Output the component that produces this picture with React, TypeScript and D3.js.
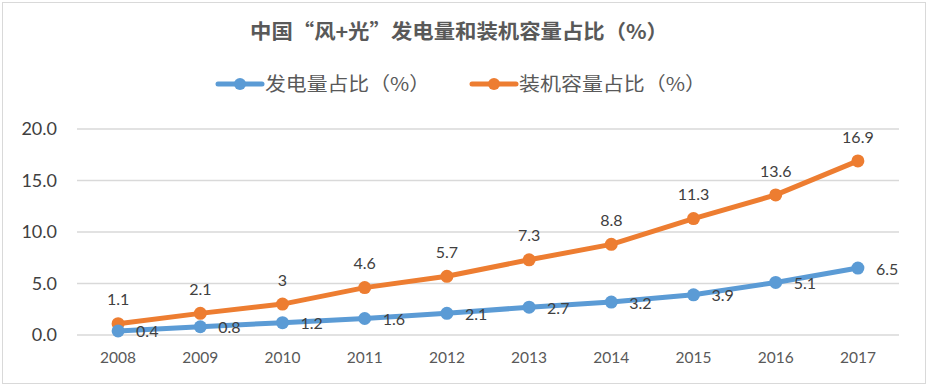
import React from 'react';
import * as d3 from 'd3';

const years = ['2008', '2009', '2010', '2011', '2012', '2013', '2014', '2015', '2016', '2017'];
const generation = [0.4, 0.8, 1.2, 1.6, 2.1, 2.7, 3.2, 3.9, 5.1, 6.5];
const capacity = [1.1, 2.1, 3, 4.6, 5.7, 7.3, 8.8, 11.3, 13.6, 16.9];
const yTicks = [0, 5, 10, 15, 20];

const title = '中国“风+光”发电量和装机容量占比（%）';
const seriesNames = ['发电量占比（%）', '装机容量占比（%）'];

const BLUE = '#5B9BD5';
const ORANGE = '#ED7D31';
const LATIN = 'Lato, "Noto Sans", sans-serif';
const CJK = '"Noto Sans CJK SC", sans-serif';

const App = () => {
  const width = 928;
  const height = 386;

  // plot area
  const x = d3.scaleBand().domain(years).range([77, 899]);
  const y = d3.scaleLinear().domain([0, 20]).range([335, 129]);
  const cx = (d: string) => (x(d) as number) + x.bandwidth() / 2;

  const line = d3
    .line<number>()
    .x((_, i) => cx(years[i]))
    .y((d) => y(d));

  return (
    <svg
      width={width}
      height={height}
      style={{ position: 'absolute', left: 0, top: 0, background: '#fff' }}
    >
      <rect x={2.5} y={2.5} width={width - 5} height={height - 5} fill="#fff" stroke="#d9d9d9" />

      <text
        x={250}
        y={39}
        textLength={418}
        lengthAdjust="spacingAndGlyphs"
        fontFamily={CJK}
        fontWeight="bold"
        fontSize={20}
        fill="#595959"
      >
        {title}
      </text>

      {/* legend */}
      <g fontFamily={CJK} fontSize={19} fill="#595959">
        <line x1={218} x2={262} y1={84} y2={84} stroke={BLUE} strokeWidth={5} strokeLinecap="round" />
        <circle cx={240} cy={84} r={6} fill={BLUE} />
        <text x={265} y={91} textLength={165} lengthAdjust="spacingAndGlyphs">{seriesNames[0]}</text>
        <line x1={472} x2={516} y1={84} y2={84} stroke={ORANGE} strokeWidth={5} strokeLinecap="round" />
        <circle cx={494} cy={84} r={6} fill={ORANGE} />
        <text x={519} y={91} textLength={187} lengthAdjust="spacingAndGlyphs">{seriesNames[1]}</text>
      </g>

      {/* grid */}
      {yTicks.map((t) => (
        <g key={t}>
          <line x1={77} x2={899} y1={y(t)} y2={y(t)} stroke="#d9d9d9" strokeWidth={1.5} />
          <text
            x={57}
            y={y(t)}
            dy="0.35em"
            textAnchor="end"
            fontFamily={LATIN}
            fontSize={18}
            fill="#404040"
          >
            {d3.format('.1f')(t)}
          </text>
        </g>
      ))}

      {years.map((yr) => (
        <text
          key={yr}
          x={cx(yr)}
          y={358}
          dy="0.35em"
          textAnchor="middle"
          fontFamily={LATIN}
          fontSize={15.5}
          fill="#595959"
        >
          {yr}
        </text>
      ))}

      {/* series */}
      <path d={line(capacity) || ''} fill="none" stroke={ORANGE} strokeWidth={5} strokeLinejoin="round" />
      <path d={line(generation) || ''} fill="none" stroke={BLUE} strokeWidth={5} strokeLinejoin="round" />
      {capacity.map((v, i) => (
        <circle key={'c' + i} cx={cx(years[i])} cy={y(v)} r={6.5} fill={ORANGE} />
      ))}
      {generation.map((v, i) => (
        <circle key={'g' + i} cx={cx(years[i])} cy={y(v)} r={6.5} fill={BLUE} />
      ))}

      <g fontFamily={LATIN} fontSize={16} fill="#404040">
        {capacity.map((v, i) => (
          <text key={'cl' + i} x={cx(years[i])} y={y(v) - 24} dy="0.35em" textAnchor="middle">
            {v}
          </text>
        ))}
        {generation.map((v, i) => (
          <text key={'gl' + i} x={cx(years[i]) + 18} y={y(v) + 1} dy="0.35em" textAnchor="start">
            {v}
          </text>
        ))}
      </g>
    </svg>
  );
};

export default App;
